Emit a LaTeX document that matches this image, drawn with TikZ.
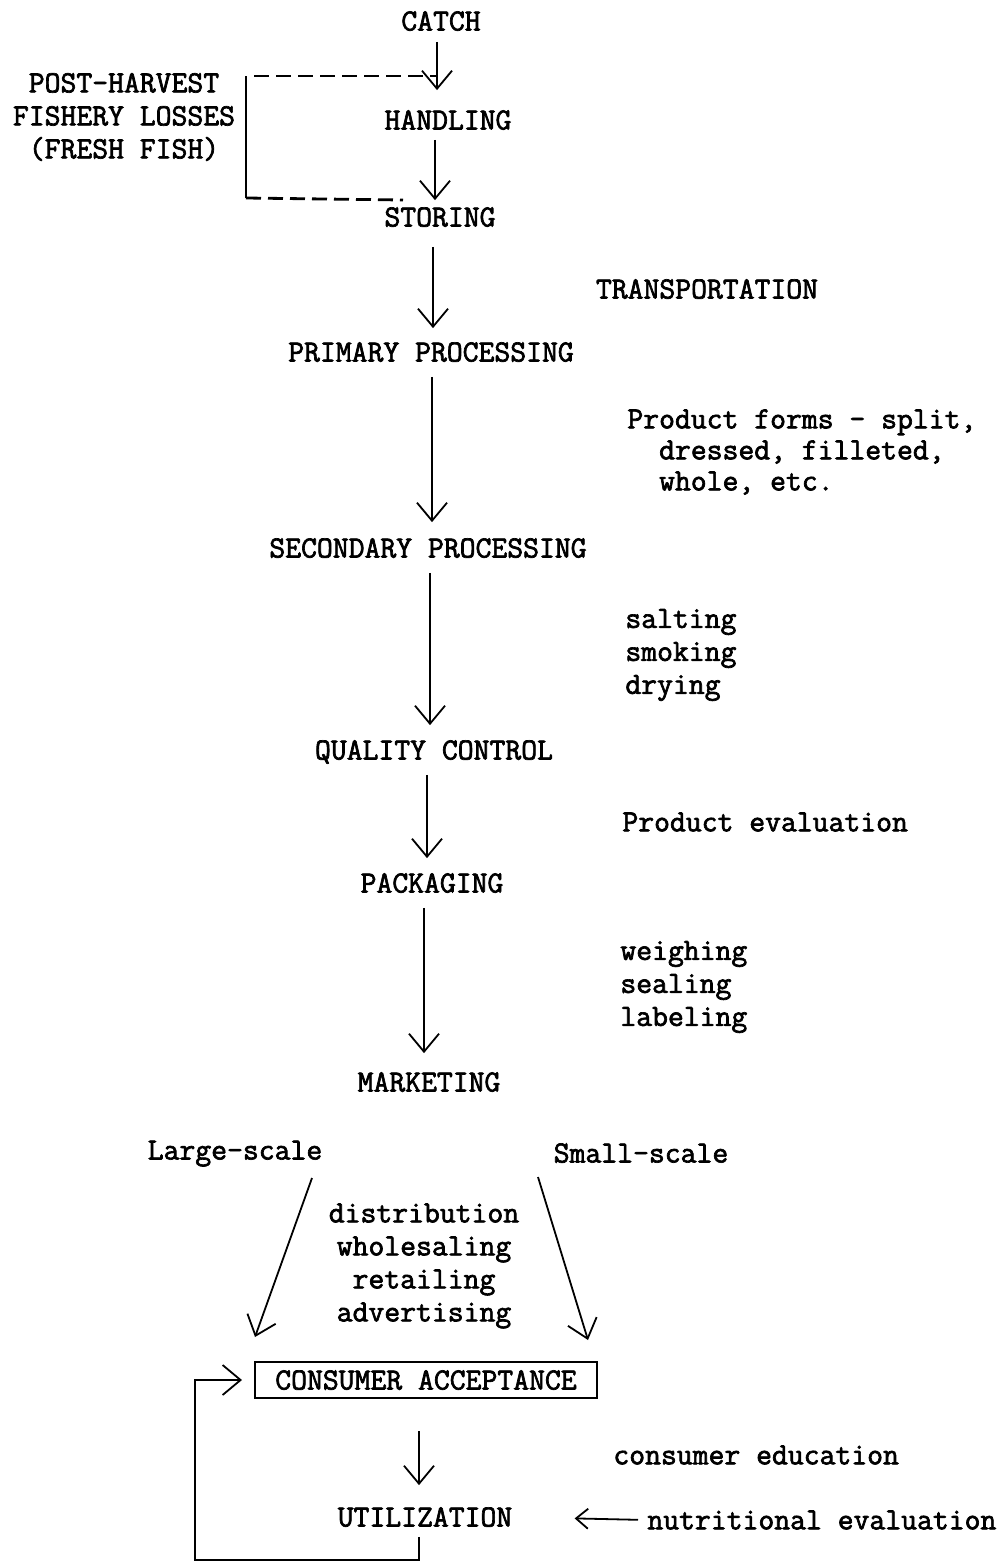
\documentclass[tikz,border=0pt]{standalone}
\usepackage{fontspec}
\setmainfont{Latin Modern Mono}
\newfontfamily\twfont{Latin Modern Mono}[FakeBold=2.2]
\usetikzlibrary{arrows.meta}
\begin{document}
\begin{tikzpicture}[x=0.5pt,y=-0.5pt,
  txt/.style={inner sep=0pt, font=\twfont\fontsize{15.4}{16.5}\selectfont},
  stage/.style={txt, text height=9.5pt, text depth=0pt},
  arr/.style={line width=0.9pt, -{Straight Barb[length=9pt,width=15pt,line width=0.9pt]}},
  smallarr/.style={line width=0.9pt, -{Straight Barb[length=6pt,width=10pt,line width=0.9pt]}},
  ln/.style={line width=0.9pt},
  dsh/.style={line width=1.4pt, dash pattern=on 7.5pt off 3.5pt}]
\useasboundingbox (0,0) rectangle (1007,1564);

% spine coordinates
\coordinate (s1) at (437,0);
\coordinate (s2) at (435,0);
\coordinate (s3) at (433,0);
\coordinate (s4) at (432,0);
\coordinate (s5) at (430,0);
\coordinate (s6) at (427,0);
\coordinate (s7) at (424,0);
\coordinate (s8) at (419,0);

% main stages
\node[stage] (catch) at (441,21) {CATCH};
\node[stage] (handling) at (448,120) {HANDLING};
\node[stage] (storing) at (440,217) {STORING};
\node[stage] (primary) at (431,352) {PRIMARY PROCESSING};
\node[stage] (secondary) at (428,548) {SECONDARY PROCESSING};
\node[stage] (qc) at (434,750) {QUALITY CONTROL};
\node[stage] (pack) at (432,883) {PACKAGING};
\node[stage] (mkt) at (429,1082) {MARKETING};
\node[stage] (large) at (235,1150) {Large-scale};
\node[stage] (small) at (641,1153) {Small-scale};
\node[stage, draw, line width=1pt, minimum width=171pt, minimum height=18pt] (ca) at (426,1380) {CONSUMER ACCEPTANCE};
\node[stage] (util) at (425,1517) {UTILIZATION};

% side texts
\node[txt, align=center] (losses) at (124,117) {POST-HARVEST\\FISHERY LOSSES\\(FRESH FISH)};
\node[stage] (transp) at (707,289) {TRANSPORTATION};
\node[txt, align=left, anchor=west, font=\twfont\fontsize{15.4}{15.5}\selectfont] (forms) at (627,452) {Product forms - split,\\\phantom{xx}dressed, filleted,\\\phantom{xx}whole, etc.};
\node[txt, align=left, anchor=west] (cure) at (625,655) {salting\\smoking\\drying};
\node[txt, anchor=west] (peval) at (622,822) {Product evaluation};
\node[txt, align=left, anchor=west] (wsl) at (620,987) {weighing\\sealing\\labeling};
\node[txt, align=center] (dist) at (424,1266) {distribution\\wholesaling\\retailing\\advertising};
\node[txt, anchor=west] (cedu) at (613,1455) {consumer education};
\node[txt, anchor=west] (nutr) at (647,1520) {nutritional evaluation};

% spine arrows
\draw[arr, shorten <=5.5pt, shorten >=10pt] (catch.south -| s1) -- (handling.north -| s1);
\draw[arr, shorten <=5pt, shorten >=3.5pt] (handling.south -| s2) -- (storing.north -| s2);
\draw[arr, shorten <=10pt, shorten >=7pt] (storing.south -| s3) -- (primary.north -| s3);
\draw[arr, shorten <=7.5pt, shorten >=8pt] (primary.south -| s4) -- (secondary.north -| s4);
\draw[arr, shorten <=7.5pt, shorten >=7.5pt] (secondary.south -| s5) -- (qc.north -| s5);
\draw[arr, shorten <=7.5pt, shorten >=7.5pt] (qc.south -| s6) -- (pack.north -| s6);
\draw[arr, shorten <=7.5pt, shorten >=9.5pt] (pack.south -| s7) -- (mkt.north -| s7);
\draw[arr, shorten <=16pt, shorten >=11pt] (ca.south -| s8) -- (util.north -| s8);

% post-harvest bracket
\coordinate (bt) at (246,76);
\coordinate (bb) at (246,198);
\coordinate (be) at (403,200);
\draw[ln, line width=1.4pt] (bt) -- (bb);
\draw[dsh] ([xshift=4pt]bt) -- (bt -| s1);
\draw[dsh] (bb) -- (be);

% large / small scale
\coordinate (l1) at (312,1178);
\coordinate (l2) at (255,1337);
\coordinate (r1) at (538,1177);
\coordinate (r2) at (588,1340);
\draw[arr] (l1) -- (l2);
\draw[arr] (r1) -- (r2);

% feedback loop
\coordinate (fb) at (195,1560);
\draw[arr, shorten <=5pt, shorten >=6pt] (util.south -| s8) -- (s8 |- fb) -- (fb) |- (ca.west);

% nutritional evaluation arrow
\draw[smallarr, shorten <=4.5pt, shorten >=31pt] (nutr.west) -- (util.east);
\end{tikzpicture}
\end{document}
